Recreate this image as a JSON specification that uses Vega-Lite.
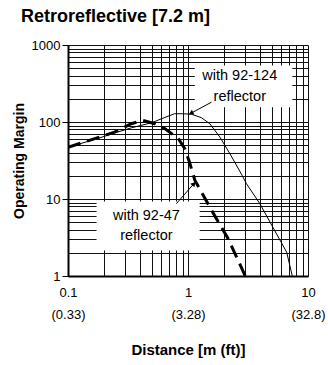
{
  "$schema": "https://vega.github.io/schema/vega-lite/v6.json",
  "width": 240,
  "height": 231,
  "autosize": "none",
  "padding": {"left": 68, "top": 45, "right": 20, "bottom": 89},
  "background": "white",
  "config": {
    "font": "Liberation Sans",
    "view": {"stroke": null},
    "axis": {"gridColor": "#111", "gridOpacity": 1, "gridWidth": 1, "domainColor": "#000", "domainWidth": 2, "labelColor": "#000", "titleColor": "#000"}
  },
  "title": {"text": "Retroreflective [7.2 m]", "anchor": "start", "frame": "group", "fontSize": 18, "fontWeight": "bold", "dx": -47, "offset": 13, "color": "#000"},
  "datasets": {
    "curves": [
      {"d": 0.1, "m": 47, "s": "92-124"},
      {"d": 0.177, "m": 61, "s": "92-124"},
      {"d": 0.244, "m": 72, "s": "92-124"},
      {"d": 0.337, "m": 84, "s": "92-124"},
      {"d": 0.5, "m": 98, "s": "92-124"},
      {"d": 0.6, "m": 110, "s": "92-124"},
      {"d": 0.77, "m": 128, "s": "92-124"},
      {"d": 0.9, "m": 128, "s": "92-124"},
      {"d": 1.07, "m": 126, "s": "92-124"},
      {"d": 1.29, "m": 114, "s": "92-124"},
      {"d": 1.52, "m": 95, "s": "92-124"},
      {"d": 1.84, "m": 64, "s": "92-124"},
      {"d": 2.23, "m": 39, "s": "92-124"},
      {"d": 2.79, "m": 21, "s": "92-124"},
      {"d": 3.07, "m": 15.8, "s": "92-124"},
      {"d": 3.97, "m": 8.7, "s": "92-124"},
      {"d": 5.48, "m": 3.5, "s": "92-124"},
      {"d": 6.64, "m": 2.04, "s": "92-124"},
      {"d": 7.4, "m": 1.0, "s": "92-124"},
      {"d": 0.1, "m": 47, "s": "92-47"},
      {"d": 0.137, "m": 55, "s": "92-47"},
      {"d": 0.244, "m": 74, "s": "92-47"},
      {"d": 0.337, "m": 95, "s": "92-47"},
      {"d": 0.42, "m": 105, "s": "92-47"},
      {"d": 0.53, "m": 95, "s": "92-47"},
      {"d": 0.64, "m": 82, "s": "92-47"},
      {"d": 0.83, "m": 61, "s": "92-47"},
      {"d": 0.94, "m": 45, "s": "92-47"},
      {"d": 1.03, "m": 30, "s": "92-47"},
      {"d": 1.14, "m": 17.5, "s": "92-47"},
      {"d": 1.62, "m": 6.6, "s": "92-47"},
      {"d": 2.16, "m": 3.05, "s": "92-47"},
      {"d": 3.0, "m": 1.0, "s": "92-47"}
    ],
    "boxes": [
      {"x1": 1.14, "x2": 7.4, "y1": 155, "y2": 543},
      {"x1": 0.173, "x2": 1.25, "y1": 2.15, "y2": 9.3}
    ],
    "labels": [
      {"x": 2.7, "y": 391, "t": "with 92-124"},
      {"x": 2.7, "y": 212, "t": "reflector"},
      {"x": 0.45, "y": 6.1, "t": "with 92-47"},
      {"x": 0.45, "y": 3.3, "t": "reflector"}
    ],
    "arrows": [
      {"x1": 1.57, "y1": 181, "x2": 1.06, "y2": 130, "a": "a124"},
      {"x1": 0.8, "y1": 8.7, "x2": 1.12, "y2": 15.8, "a": "a47"}
    ]
  },
  "layer": [
    {
      "data": {"name": "boxes"},
      "mark": {"type": "rect", "color": "white"},
      "encoding": {
        "x": {"field": "x1", "type": "quantitative", "scale": {"type": "log", "domain": [0.1, 10]},
          "title": "Distance [m (ft)]",
          "axis": {
            "values": [0.1,0.2,0.3,0.4,0.5,0.6,0.7,0.8,0.9,1,2,3,4,5,6,7,8,9,10],
            "labelExpr": "datum.value == 0.1 ? ['0.1','(0.33)'] : datum.value == 1 ? ['1','(3.28)'] : datum.value == 10 ? ['10','(32.8)'] : ''",
            "labelOverlap": false, "labelFlush": false, "labelFontSize": 13, "labelLineHeight": 22,
            "ticks": false, "labelPadding": 10, "titleFontSize": 15, "titleFontWeight": "bold", "titlePadding": 21
          }},
        "x2": {"field": "x2"},
        "y": {"field": "y1", "type": "quantitative", "scale": {"type": "log", "domain": [1, 1000]},
          "title": "Operating Margin",
          "axis": {
            "values": [1,2,3,4,5,6,7,8,9,10,20,30,40,50,60,70,80,90,100,200,300,400,500,600,700,800,900,1000],
            "labelExpr": "datum.value == 1 || datum.value == 10 || datum.value == 100 || datum.value == 1000 ? toString(datum.value) : ''",
            "labelOverlap": false, "labelFlush": false, "labelFontSize": 13, "labelPadding": 2,
            "tickSize": 6, "tickColor": "#000", "tickWidth": 1,
            "tickOpacity": {"condition": {"test": "datum.value == 1 || datum.value == 10 || datum.value == 100 || datum.value == 1000", "value": 1}, "value": 0},
            "titleFontSize": 14, "titleFontWeight": "bold", "titlePadding": 5
          }},
        "y2": {"field": "y2"}
      }
    },
    {
      "data": {"name": "curves"},
      "transform": [{"filter": "datum.s == '92-124'"}],
      "mark": {"type": "line", "color": "#000", "strokeWidth": 1, "clip": true},
      "encoding": {
        "x": {"field": "d", "type": "quantitative"},
        "y": {"field": "m", "type": "quantitative"}
      }
    },
    {
      "data": {"name": "curves"},
      "transform": [{"filter": "datum.s == '92-47'"}],
      "mark": {"type": "line", "color": "#000", "strokeWidth": 3, "strokeDash": [13, 7], "clip": true},
      "encoding": {
        "x": {"field": "d", "type": "quantitative"},
        "y": {"field": "m", "type": "quantitative"}
      }
    },
    {
      "data": {"name": "arrows"},
      "mark": {"type": "rule", "color": "#000", "strokeWidth": 1},
      "encoding": {
        "x": {"field": "x1", "type": "quantitative"},
        "y": {"field": "y1", "type": "quantitative"},
        "x2": {"field": "x2"},
        "y2": {"field": "y2"}
      }
    },
    {
      "data": {"name": "arrows"},
      "transform": [{"filter": "datum.a == 'a124'"}],
      "mark": {"type": "point", "shape": "triangle-up", "filled": true, "color": "#000", "size": 30, "angle": 242, "opacity": 1},
      "encoding": {
        "x": {"field": "x2", "type": "quantitative"},
        "y": {"field": "y2", "type": "quantitative"}
      }
    },
    {
      "data": {"name": "arrows"},
      "transform": [{"filter": "datum.a == 'a47'"}],
      "mark": {"type": "point", "shape": "triangle-up", "filled": true, "color": "#000", "size": 30, "angle": 40, "opacity": 1},
      "encoding": {
        "x": {"field": "x2", "type": "quantitative"},
        "y": {"field": "y2", "type": "quantitative"}
      }
    },
    {
      "data": {"name": "labels"},
      "mark": {"type": "text", "fontSize": 14.5, "color": "#000", "align": "center", "baseline": "middle"},
      "encoding": {
        "x": {"field": "x", "type": "quantitative"},
        "y": {"field": "y", "type": "quantitative"},
        "text": {"field": "t"}
      }
    }
  ]
}
